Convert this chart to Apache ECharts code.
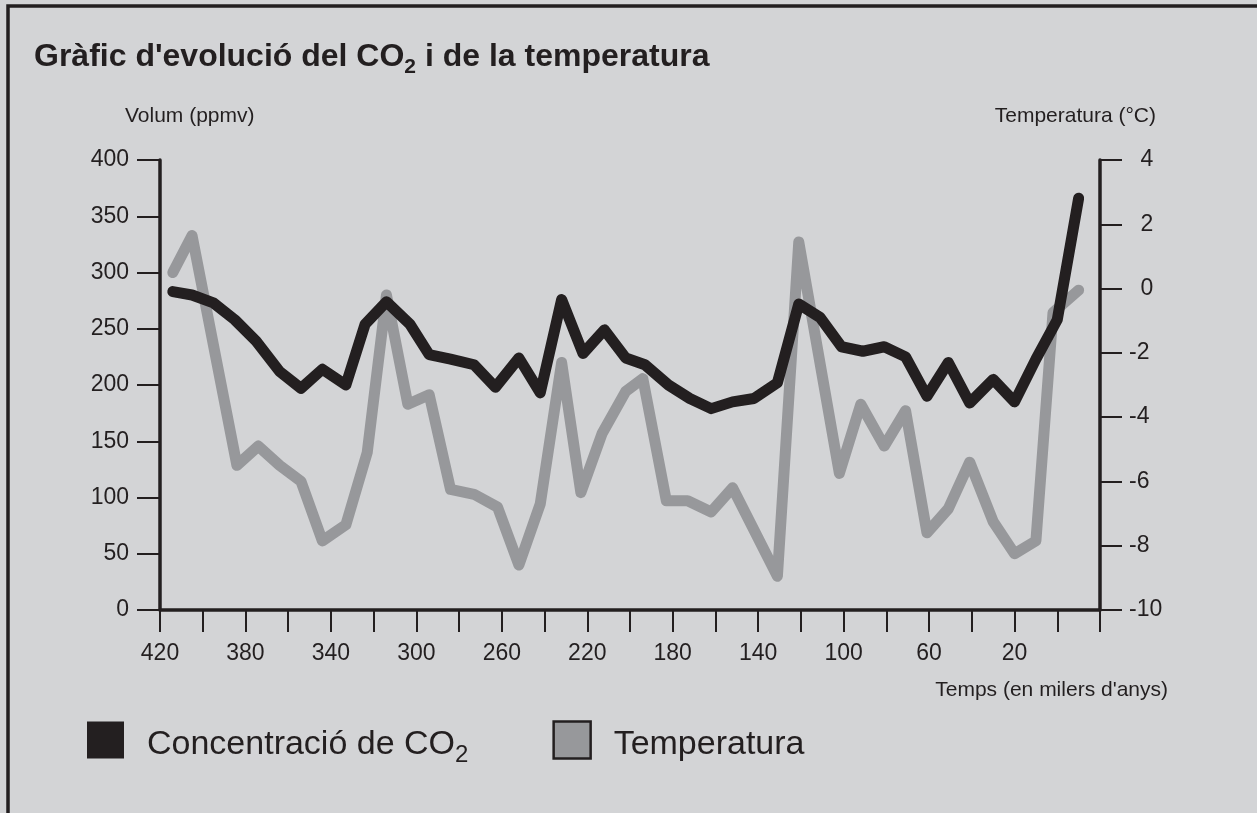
<!DOCTYPE html>
<html>
<head>
<meta charset="utf-8">
<title>CO2 i temperatura</title>
<script src="https://cdn.jsdelivr.net/npm/echarts@6/dist/echarts.min.js"></script>
<style>
  html, body { margin: 0; padding: 0; background: #d3d4d6; }
  #chart { width: 1257px; height: 813px; }
</style>
</head>
<body>
<div id="chart"></div>
<script>
  // temps en milers d'anys (0 = present)
  var co2Time = [414, 405, 395, 385, 375, 364, 354, 344, 333, 324, 314, 303, 294, 284, 273, 263, 252, 242, 232, 222, 212, 202, 193, 182, 172, 162, 152, 142, 131, 121, 111, 101, 91, 81, 71, 61, 51, 41, 30, 20, 10, 0, -10];
  var co2Values = [283, 280, 273, 258, 239, 212, 197, 214, 200, 254, 274, 254, 227, 223, 218, 198, 224, 193, 276, 228, 249, 224, 218, 200, 188, 179, 185, 188, 202, 272, 260, 234, 230, 234, 225, 190, 220, 184, 205, 185, 223, 258, 366];

  var tempTime = [414, 405, 384, 374, 364, 354, 344, 333, 323, 314, 304, 294, 284, 273, 262, 252, 242, 232, 223, 213, 202, 194, 183, 173, 162, 152, 131, 121, 102, 92, 81, 71, 61, 51, 41, 30, 20, 10, 2, -10];
  var tempValues = [0.5, 1.65, -5.5, -4.9, -5.5, -6.0, -7.85, -7.35, -5.1, -0.2, -3.6, -3.3, -6.25, -6.4, -6.8, -8.6, -6.7, -2.3, -6.35, -4.5, -3.2, -2.8, -6.6, -6.6, -6.95, -6.2, -8.95, 1.45, -5.75, -3.6, -4.9, -3.8, -7.6, -6.85, -5.4, -7.25, -8.25, -7.85, -0.75, -0.05];

  var volumTicks = [0, 400, 50];
  var tempTicks = [-10, 4, 2];
  var timeTicks = [-20, 420, 20];

  var ink = '#231f20';
  var grey = '#97989b';
  var font = "'Liberation Sans', Arial, sans-serif";

  function pairs(xs, ys) {
    var out = [];
    for (var i = 0; i < xs.length; i++) out.push([xs[i], ys[i]]);
    return out;
  }

  var myChart = echarts.init(document.getElementById('chart'));

  var option = {
    backgroundColor: '#d3d4d6',
    animation: false,
    textStyle: { fontFamily: font, color: ink },
    title: {
      text: "Gràfic d'evolució del CO{sub|2} i de la temperatura",
      left: 34,
      top: 36,
      padding: 0,
      textStyle: {
        fontFamily: font,
        fontSize: 32,
        fontWeight: 'bold',
        color: ink,
        lineHeight: 42,
        rich: {
          sub: { fontFamily: font, fontSize: 21, fontWeight: 'bold', color: ink, lineHeight: 21, verticalAlign: 'bottom', padding: [12, 0, 0, 0] }
        }
      }
    },
    legend: {
      left: 87,
      top: 713,
      padding: 0,
      icon: 'rect',
      itemWidth: 37,
      itemHeight: 37,
      itemGap: 84,
      selectedMode: false,
      data: [
        { name: 'Concentració de CO2', itemStyle: { color: ink } },
        { name: 'Temperatura', itemStyle: { color: grey, borderColor: ink, borderWidth: 2.5 } }
      ],
      formatter: function (name) {
        return name === 'Concentració de CO2' ? 'Concentració de CO{sub|2}' : name;
      },
      textStyle: {
        fontFamily: font,
        fontSize: 34,
        color: ink,
        padding: [10, 0, 0, 18],
        lineHeight: 44,
        rich: {
          sub: { fontFamily: font, fontSize: 24, color: ink, lineHeight: 24, verticalAlign: 'bottom', padding: [14, 0, 0, 0] }
        }
      }
    },
    grid: { left: 160, right: 157, top: 160, bottom: 203 },
    xAxis: {
      type: 'value',
      inverse: true,
      min: timeTicks[0],
      max: timeTicks[1],
      interval: timeTicks[2],
      axisLine: { show: true, onZero: false, lineStyle: { color: ink, width: 3.5 } },
      axisTick: { show: true, length: 22, lineStyle: { color: ink, width: 2 } },
      axisLabel: {
        margin: 32,
        fontSize: 23,
        color: ink,
        fontFamily: font,
        formatter: function (v) {
          return (v > 0 && (420 - v) % 40 === 0) ? String(v) : '';
        }
      },
      splitLine: { show: false }
    },
    yAxis: [
      {
        type: 'value',
        position: 'left',
        min: volumTicks[0],
        max: volumTicks[1],
        interval: volumTicks[2],
        axisLine: { show: true, onZero: false, lineStyle: { color: ink, width: 3.5 } },
        axisTick: { show: true, length: 23, lineStyle: { color: ink, width: 2 } },
        axisLabel: { margin: 31, fontSize: 23, color: ink, fontFamily: font },
        splitLine: { show: false }
      },
      {
        type: 'value',
        position: 'right',
        min: tempTicks[0],
        max: tempTicks[1],
        interval: tempTicks[2],
        axisLine: { show: true, onZero: false, lineStyle: { color: ink, width: 3.5 } },
        axisTick: { show: true, length: 22, lineStyle: { color: ink, width: 2 } },
        axisLabel: {
          margin: 29,
          fontSize: 23,
          color: ink,
          fontFamily: font,
          formatter: function (v) {
            return v >= 0 ? '\u2002' + v : String(v);
          }
        },
        splitLine: { show: false }
      }
    ],
    series: [
      {
        name: 'Temperatura',
        type: 'line',
        yAxisIndex: 1,
        showSymbol: false,
        symbol: 'none',
        color: grey,
        lineStyle: { color: grey, width: 11, cap: 'round', join: 'round' },
        data: pairs(tempTime, tempValues)
      },
      {
        name: 'Concentració de CO2',
        type: 'line',
        yAxisIndex: 0,
        showSymbol: false,
        symbol: 'none',
        color: ink,
        lineStyle: { color: ink, width: 11, cap: 'round', join: 'round' },
        data: pairs(co2Time, co2Values)
      }
    ],
    graphic: [
      {
        type: 'rect',
        silent: true,
        shape: { x: 8, y: 6, width: 1400, height: 1000 },
        style: { fill: 'none', stroke: ink, lineWidth: 3.5 }
      },
      {
        type: 'text',
        left: 125,
        top: 106,
        style: { text: 'Volum (ppmv)', font: '21px ' + font, fill: ink }
      },
      {
        type: 'text',
        right: 101,
        top: 106,
        style: { text: 'Temperatura (°C)', font: '21px ' + font, fill: ink }
      },
      {
        type: 'text',
        right: 89,
        top: 680,
        style: { text: "Temps (en milers d'anys)", font: '21px ' + font, fill: ink }
      }
    ]
  };

  myChart.setOption(option);
  window.addEventListener('resize', function () {
    myChart.resize();
  });
</script>
</body>
</html>
